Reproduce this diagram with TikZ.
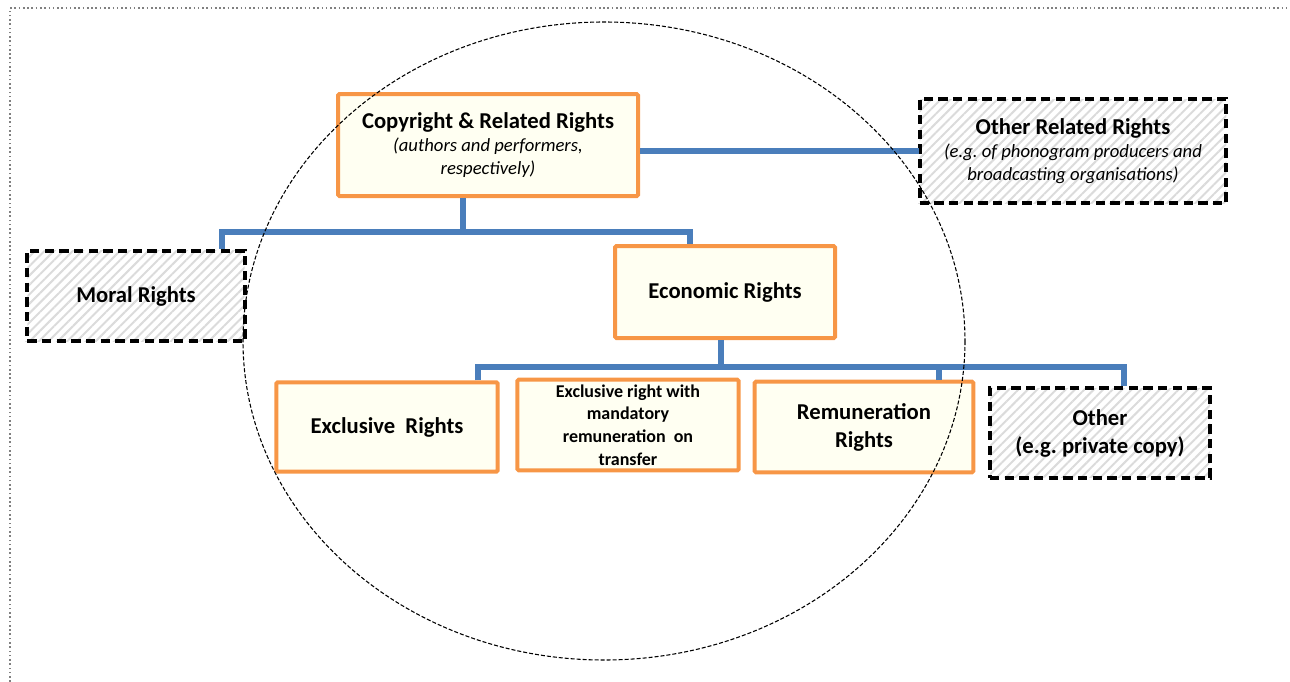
\documentclass[tikz,border=0pt]{standalone}
\usepackage{fontspec}
\setmainfont{Carlito}
\usetikzlibrary{patterns.meta}
\frenchspacing

\definecolor{boxorange}{HTML}{F79646}
\definecolor{boxfill}{HTML}{FFFFF2}
\definecolor{linkblue}{HTML}{4A7EBB}
\newcommand{\subtxt}{\fontsize{14}{17}\selectfont\mdseries\itshape}

\begin{document}
\begin{tikzpicture}[x=0.75pt, y=-0.75pt, align=center]
    \tikzstyle{every node}=[inner sep=0pt];
    \tikzstyle{rightsbox}=[draw=boxorange, fill=boxfill, line width=3pt, rounded corners=1pt];
    \tikzstyle{otherbox}=[draw=black, line width=2.8pt, dash pattern=on 7pt off 4pt,
        pattern={Lines[angle=45, distance=5pt, line width=1.5pt]}, pattern color=black!14];
    \tikzstyle{link}=[draw=linkblue, line width=4pt];
    \tikzstyle{title}=[font=\fontsize{17}{21}\selectfont\bfseries];
    \tikzstyle{head}=[font=\fontsize{17}{17.3}\selectfont\bfseries];
    \tikzstyle{small}=[font=\fontsize{13.5}{17}\selectfont\bfseries];

    \useasboundingbox (0,0) rectangle (1290,682);
    \draw[gray, dotted, line width=1.2pt] (10,682) -- (10,8) -- (1290,8);

    % top row
    \node (copy) [rightsbox, head, minimum width=225pt, minimum height=76.5pt] at (488,145)
        {Copyright \& Related Rights\\
         \subtxt (authors and performers,\\ \subtxt respectively)};
    \node (orr) [otherbox, head, minimum width=230pt, minimum height=78pt] at (1073,151)
        {Other Related Rights\\
         \subtxt (e.g. of phonogram producers and\\ \subtxt broadcasting organisations)};

    % middle row
    \node (moral) [otherbox, title, minimum width=163pt, minimum height=68pt] at (136,296) {Moral Rights};
    \node (econ) [rightsbox, title, minimum width=165pt, minimum height=69pt] at (725,292) {Economic Rights};

    % bottom row
    \node (excl) [rightsbox, title, minimum width=166pt, minimum height=67pt] at (387,427) {Exclusive~ Rights};
    \node (mand) [rightsbox, small, minimum width=166pt, minimum height=68pt] at (628,425)
        {Exclusive right with\\ mandatory\\ remuneration~ on\\ transfer};
    \node (remun) [rightsbox, title, minimum width=164pt, minimum height=68pt] at (864,427) {Remuneration\\ Rights};
    \node (priv) [otherbox, title, minimum width=165pt, minimum height=67pt] at (1100,433) {Other\\ (e.g. private copy)};

    % connectors
    \coordinate (t1) at (463,232);
    \coordinate (t2) at (721,367);
    \draw[link] (copy.east |- orr.west) -- (orr.west);
    \draw[link] (copy.south -| t1) -- (t1);
    \draw[link] (moral.north -| 222,0) |- (t1) -| (econ.north -| 690,0);
    \draw[link] (econ.south -| t2) -- (t2);
    \draw[link] (excl.north -| 478,0) |- (t2) -| (priv.north -| 1124,0);
    \draw[link] (remun.north -| 939,0) -- (939,367);

    \draw[black, line width=0.8pt, dash pattern=on 3pt off 1.5pt] (604,341) ellipse [x radius=361, y radius=319];
\end{tikzpicture}
\end{document}
